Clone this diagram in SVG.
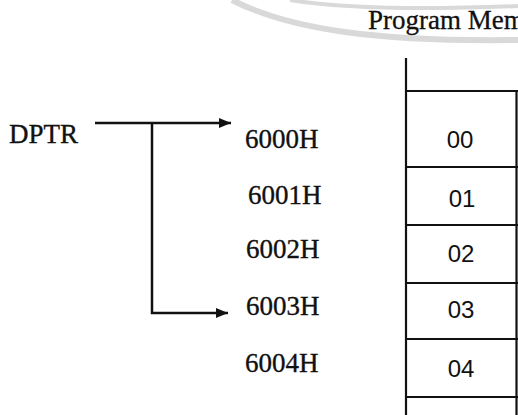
<svg xmlns="http://www.w3.org/2000/svg" width="518" height="415" viewBox="0 0 518 415">
<defs>
<style>
.lbl{font-family:"Liberation Serif","Times New Roman",serif;font-size:27px;fill:#111;stroke:#111;stroke-width:0.35}
.val{font-family:"Liberation Sans",Arial,sans-serif;font-size:24px;fill:#111;text-anchor:middle}
.ttl{font-family:"Liberation Serif","Times New Roman",serif;font-size:27px;fill:#111;stroke:#111;stroke-width:0.3}
.wire{fill:none;stroke:#111;stroke-width:2.5}
.cell{fill:none;stroke:#111;stroke-width:2.2}
.wm{fill:none;stroke:#d9d9d9}
</style>
<marker id="ah" markerWidth="12" markerHeight="10" refX="12" refY="5" orient="auto" markerUnits="userSpaceOnUse">
<path d="M0,0 L12,5 L0,10 Z" fill="#111"/>
</marker>
</defs>
<rect width="518" height="415" fill="#fff"/>
<g id="watermark">
<path class="wm" stroke-width="6" d="M232,0 C290,30 380,42 518,40"/>
<path class="wm" stroke-width="4" d="M290,0 C340,8 420,10 518,6"/>
</g>
<g id="title"><text class="ttl" x="368" y="29">Program Memory</text></g>
<g id="memory">
<path class="cell" d="M406,58 V415 M406,91 H518 M516.5,91 V415"/>
<g id="cell-6000"><path class="cell" d="M406,167 H518"/><text class="val" x="460" y="148">00</text></g>
<g id="cell-6001"><path class="cell" d="M406,225 H518"/><text class="val" x="462" y="207">01</text></g>
<g id="cell-6002"><path class="cell" d="M406,283 H518"/><text class="val" x="461" y="262">02</text></g>
<g id="cell-6003"><path class="cell" d="M406,339 H518"/><text class="val" x="461" y="318">03</text></g>
<g id="cell-6004"><path class="cell" d="M406,397 H518"/><text class="val" x="461" y="377">04</text></g>
</g>
<g id="dptr"><text class="lbl" x="9" y="143">DPTR</text></g>
<g id="addr-6000H"><text class="lbl" x="245" y="148">6000H</text></g>
<g id="addr-6001H"><text class="lbl" x="248" y="204">6001H</text></g>
<g id="addr-6002H"><text class="lbl" x="246" y="258">6002H</text></g>
<g id="addr-6003H"><text class="lbl" x="246" y="315">6003H</text></g>
<g id="addr-6004H"><text class="lbl" x="245" y="372">6004H</text></g>
<g id="connectors">
<path class="wire" marker-end="url(#ah)" d="M95,123 H231"/>
<path class="wire" marker-end="url(#ah)" d="M152,123 V313 H228"/>
</g>
</svg>
